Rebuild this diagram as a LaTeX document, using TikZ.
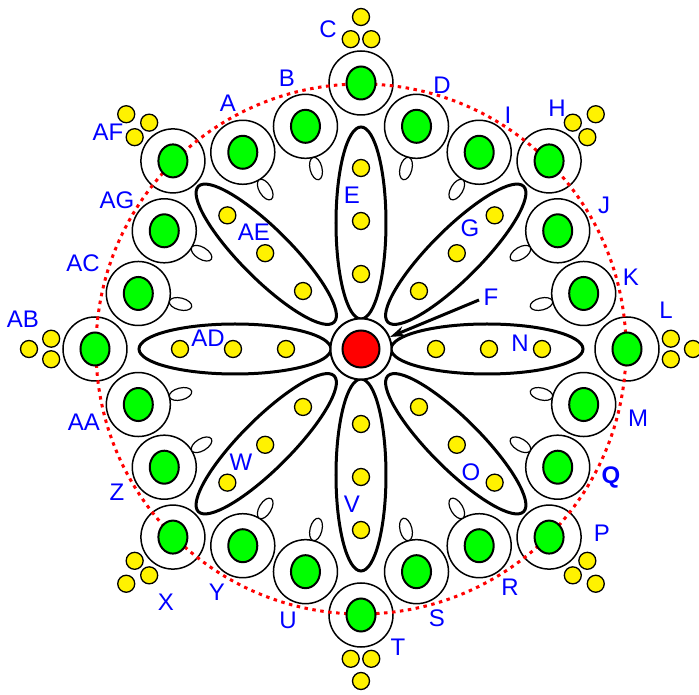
\documentclass[tikz,border=0pt]{standalone}
\usepackage{fontspec}
\setmainfont{Liberation Sans}
\usetikzlibrary{shapes.geometric,arrows.meta}
\begin{document}
\begin{tikzpicture}[x=1pt,y=1pt,
  ring/.style={circle,draw=black,line width=1.5pt,fill=white,minimum size=64pt,inner sep=0pt},
  seed/.style={ellipse,draw=black,line width=2pt,fill=green,minimum width=29pt,minimum height=33pt,inner sep=0pt},
  bud/.style={ellipse,draw=black,line width=1.2pt,fill=white,minimum width=23pt,minimum height=12pt,inner sep=0pt},
  ydot/.style={circle,draw=black,line width=1.3pt,fill=yellow,minimum size=17pt,inner sep=0pt},
  petal/.style={ellipse,draw=black,line width=3pt,minimum width=192pt,minimum height=50pt,inner sep=0pt},
  orbit/.style={circle,draw=red,line width=3pt,dash pattern=on 3.5pt off 4.5pt,minimum size=530pt,inner sep=0pt},
  lbl/.style={text=blue,font=\fontsize{24}{24}\selectfont,inner sep=0pt},
  pointer/.style={draw=black,line width=3pt,-{Stealth[length=15pt,width=10pt]}},
]
\useasboundingbox (-361,-346) rectangle (338,349);

% outer rings (tips and in-between)
\foreach \a in {90,45,0,-45,-90,-135,180,135}
  \node[ring] (t\a) at (\a:266) {};
\foreach \a in {76,59,31,14,-14,-31,-59,-76,-104,-121,-149,-166,166,149,121,104}
  \node[ring] (r\a) at (\a:229.5) {};

% red dotted orbit
\node[orbit] (orbit) at (0,0) {};

% green seeds
\foreach \a in {90,45,0,-45,-90,-135,180,135}
  \node[seed] (gt\a) at (t\a) {};
\foreach \a in {76,59,31,14,-14,-31,-59,-76,-104,-121,-149,-166,166,149,121,104}
  \node[seed] (gr\a) at (r\a) {};

% small buds
\foreach \a in {76,59,31,14,-14,-31,-59,-76,-104,-121,-149,-166,166,149,121,104}
  \node[bud,rotate=\a] (b\a) at (\a:186) {};

% yellow clusters at tips
\foreach \a in {90,45,0,-45,-90,-135,180,135}{
  \node[ydot] (ya\a) at ({\a+1.9}:310) {};
  \node[ydot] (yb\a) at ({\a-1.9}:310) {};
  \node[ydot] (yc\a) at (\a:332) {};
}

% petals
\foreach \a in {90,0,-90,180}{
  \node[petal,rotate=\a] (p\a) at (\a:126) {};
  \node[ydot] (pa\a) at (\a:75) {};
  \node[ydot] (pb\a) at (\a:128) {};
  \node[ydot] (pc\a) at (\a:181) {};
}
\foreach \a in {45,-45,-135,135}{
  \node[petal,rotate=\a] (p\a) at (\a:134) {};
  \node[ydot] (pa\a) at (\a:82) {};
  \node[ydot] (pb\a) at (\a:135.5) {};
  \node[ydot] (pc\a) at (\a:189) {};
}

% hub
\node[circle,draw=black,line width=2pt,fill=white,minimum size=61pt,inner sep=0pt] (hub) at (0,0) {};
\node[circle,draw=black,line width=2pt,fill=red,minimum size=37pt,inner sep=0pt] (core) at (0,0) {};

% arrow F
\coordinate (fstart) at (118,49);
\draw[pointer] (fstart) -- (hub);

% petal labels
\node[lbl] (lE) at (-9,154) {E};
\node[lbl] (lAE) at (-107,117) {AE};
\node[lbl] (lG) at (109,121) {G};
\node[lbl] (lF) at (130,52) {F};
\node[lbl] (lAD) at (-153,11) {AD};
\node[lbl] (lN) at (159,6) {N};
\node[lbl] (lW) at (-120,-113) {W};
\node[lbl] (lO) at (110,-123) {O};
\node[lbl] (lV) at (-9,-155) {V};

% outer labels
\node[lbl] (lC) at (-33,320) {C};
\node[lbl] (lB) at (-74,271) {B};
\node[lbl] (lA) at (-133,246) {A};
\node[lbl] (lD) at (81,264) {D};
\node[lbl] (lI) at (147,234) {I};
\node[lbl] (lH) at (196,241) {H};
\node[lbl] (lJ) at (243,144) {J};
\node[lbl] (lK) at (270,72) {K};
\node[lbl] (lL) at (305,39) {L};
\node[lbl] (lM) at (277,-69) {M};
\node[lbl,font=\fontsize{24}{24}\selectfont\bfseries] (lQ) at (250,-128) {Q};
\node[lbl] (lP) at (241,-184) {P};
\node[lbl] (lR) at (149,-238) {R};
\node[lbl] (lS) at (76,-269) {S};
\node[lbl] (lT) at (37,-298) {T};
\node[lbl] (lU) at (-73,-271) {U};
\node[lbl] (lY) at (-144,-243) {Y};
\node[lbl] (lX) at (-195,-253) {X};
\node[lbl] (lZ) at (-244,-143) {Z};
\node[lbl] (lAA) at (-277,-73) {AA};
\node[lbl] (lAB) at (-338,30) {AB};
\node[lbl] (lAC) at (-278,86) {AC};
\node[lbl] (lAG) at (-244,149) {AG};
\node[lbl] (lAF) at (-253,217) {AF};
\end{tikzpicture}
\end{document}
